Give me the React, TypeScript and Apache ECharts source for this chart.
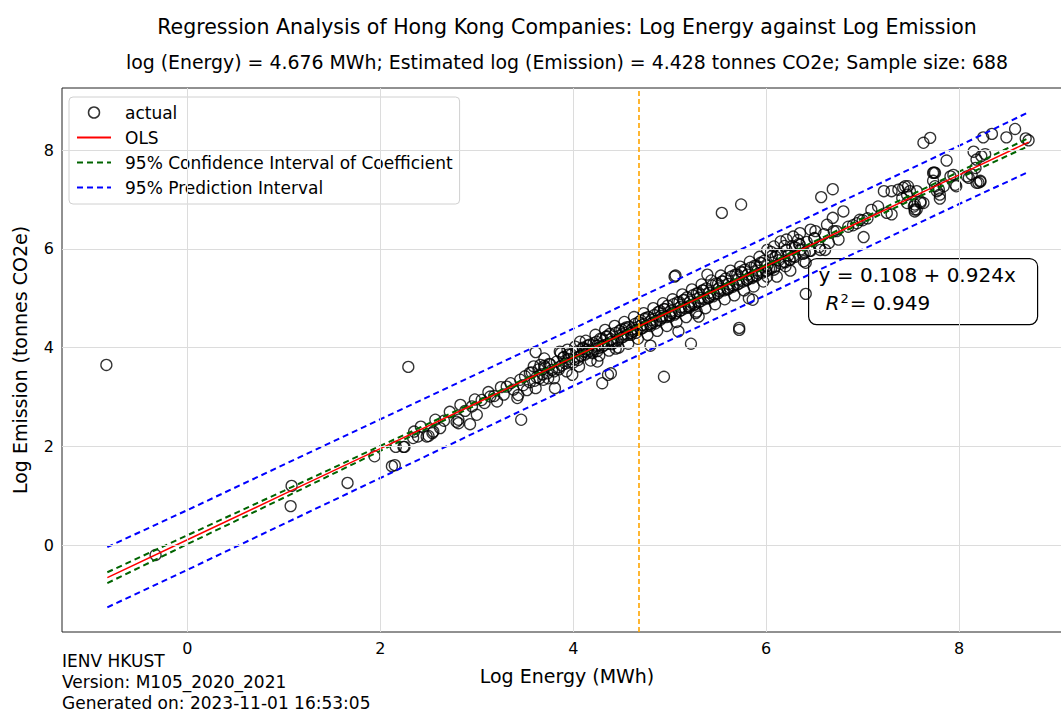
import React, { useEffect, useRef } from "react";
import * as echarts from "echarts";

const FONT = "DejaVu Sans";

const titleText = "Regression Analysis of Hong Kong Companies: Log Energy against Log Emission";
const subtitleText = "log (Energy) = 4.676 MWh; Estimated log (Emission) = 4.428 tonnes CO2e; Sample size: 688";
const footerLines = ["IENV HKUST", "Version: M105_2020_2021", "Generated on: 2023-11-01 16:53:05"];

const xTicks = [0, 2, 4, 6, 8];
const yTicks = [0, 2, 4, 6, 8];
const meanLogEnergy = 4.676;

const outlierPoints: number[][] = [
  [-0.84, 3.65], [-0.33, -0.2], [1.08, 1.2], [1.07, 0.79], [1.66, 1.26], [1.94, 1.8], [2.12, 1.6], [2.15, 1.62],
  [2.29, 3.61], [3.46, 2.54], [3.61, 3.91], [4.30, 3.28], [4.36, 3.45], [4.39, 3.48], [4.25, 3.72], [4.94, 3.41],
  [5.22, 4.08], [5.72, 4.36], [4.80, 4.04], [4.44, 3.98], [5.54, 6.73], [5.74, 6.90], [5.72, 4.40], [5.86, 4.97],
  [5.82, 5.0], [5.06, 5.46], [5.05, 5.44], [5.09, 4.33], [5.30, 4.63], [5.28, 4.73], [5.39, 5.48], [4.07, 4.12],
  [6.57, 7.05], [6.69, 7.21], [7.01, 6.24], [6.41, 5.09], [7.74, 7.55], [6.80, 6.76], [6.69, 6.63], [7.63, 8.15],
  [7.70, 8.25], [8.25, 8.26], [8.34, 8.33], [8.49, 8.26], [8.58, 8.43], [8.69, 8.24], [8.72, 8.20], [7.87, 7.79],
  [8.15, 7.97], [8.27, 7.92], [8.20, 7.34], [8.22, 7.38], [7.80, 7.02], [8.08, 7.47], [7.94, 7.50], [7.75, 7.54],
  [7.54, 6.80], [7.97, 7.27],
];

// lower band (x 2 .. 4.2)
const lowBandPoints: number[][] = [
  [2.25, 1.99], [2.35, 2.30], [2.34, 2.17], [2.39, 2.20], [2.48, 2.20], [2.50, 2.21], [2.54, 2.27], [2.55, 2.30],
  [2.62, 2.37], [2.57, 2.54], [2.79, 2.50], [2.81, 2.54], [2.81, 2.47], [2.93, 2.45], [2.83, 2.84], [2.95, 2.81],
  [3.00, 2.64], [3.05, 2.94], [3.14, 3.01], [3.21, 2.91], [3.42, 2.98], [3.43, 3.04], [3.31, 3.21], [3.59, 3.62],
  [3.66, 3.65], [3.69, 3.35], [3.61, 3.18], [3.52, 3.14], [3.80, 3.38], [3.81, 3.18], [3.99, 3.45], [3.87, 3.89],
  [3.94, 3.96], [4.14, 3.96], [4.21, 4.09], [2.16, 1.99], [2.24, 1.99],
  [2.42, 2.40], [2.66, 2.52], [2.72, 2.70], [2.88, 2.72], [2.98, 2.95], [3.08, 2.88], [3.12, 3.10], [3.18, 3.02],
  [3.25, 3.20], [3.28, 3.05], [3.35, 3.28], [3.38, 3.15], [3.45, 3.35], [3.48, 3.24], [3.50, 3.42], [3.55, 3.30],
  [3.57, 3.50], [3.62, 3.40], [3.64, 3.56], [3.68, 3.46], [3.71, 3.60], [3.73, 3.48], [3.76, 3.66], [3.78, 3.55],
  [3.83, 3.72], [3.85, 3.60], [3.88, 3.64], [3.90, 3.80], [3.92, 3.68], [3.96, 3.70], [3.98, 3.86],
];

// main dense band (x 3.5 .. 6.7)
const midBandPoints: number[][] = [
  [4.01, 3.76], [4.03, 3.92], [4.05, 3.80], [4.08, 3.84], [4.10, 3.98], [4.12, 3.86], [4.15, 3.90], [4.17, 4.06],
  [4.19, 3.92], [4.22, 3.97], [4.24, 4.12], [4.26, 3.99], [4.28, 4.18], [4.30, 4.02], [4.32, 4.05], [4.34, 4.22],
  [4.36, 4.08], [4.38, 4.28], [4.40, 4.12], [4.42, 4.10], [4.44, 4.30], [4.46, 4.16], [4.48, 4.34], [4.50, 4.20],
  [4.52, 4.22], [4.54, 4.38], [4.56, 4.26], [4.58, 4.42], [4.60, 4.30], [4.62, 4.33], [4.64, 4.48], [4.66, 4.36],
  [4.68, 4.52], [4.70, 4.38], [4.72, 4.40], [4.74, 4.58], [4.76, 4.44], [4.78, 4.62], [4.80, 4.48], [4.82, 4.50],
  [4.84, 4.66], [4.86, 4.54], [4.88, 4.72], [4.90, 4.56], [4.92, 4.60], [4.94, 4.78], [4.96, 4.62], [4.98, 4.85],
  [5.00, 4.66], [5.02, 4.70], [5.04, 4.88], [5.06, 4.70], [5.08, 4.92], [5.10, 4.74], [5.12, 4.76], [5.14, 4.96],
  [5.16, 4.80], [5.18, 5.02], [5.20, 4.84], [5.22, 4.86], [5.24, 5.06], [5.26, 4.88], [5.28, 5.10], [5.30, 4.92],
  [5.32, 4.94], [5.34, 5.16], [5.36, 4.98], [5.38, 5.20], [5.40, 5.02], [5.42, 5.04], [5.44, 5.26], [5.46, 5.08],
  [5.48, 5.30], [5.50, 5.10], [5.52, 5.14], [5.54, 5.34], [5.56, 5.16], [5.58, 5.40], [5.60, 5.20], [5.62, 5.22],
  [5.64, 5.44], [5.66, 5.26], [5.68, 5.48], [5.70, 5.28], [5.72, 5.30], [5.74, 5.54], [5.76, 5.34], [5.78, 5.58],
  [5.80, 5.38], [5.82, 5.40], [5.84, 5.62], [5.86, 5.44], [5.88, 5.66], [5.90, 5.46], [5.92, 5.50], [5.94, 5.72],
  [5.96, 5.52], [5.98, 5.76], [6.00, 5.56], [6.03, 5.60], [6.06, 5.86], [6.09, 5.64], [6.12, 5.90], [6.15, 5.70],
  [6.18, 5.74], [6.21, 5.98], [6.24, 5.78], [6.27, 6.06], [6.30, 5.84], [6.34, 6.10], [6.38, 5.90], [6.42, 6.14],
  [6.46, 5.96], [6.50, 6.22], [6.55, 6.04], [6.60, 6.30], [6.65, 6.12], [6.70, 6.36],
  [3.70, 3.78], [3.74, 3.38], [3.86, 3.92], [3.93, 3.52], [4.02, 4.02], [4.06, 3.62], [4.13, 4.14], [4.18, 3.74],
  [4.23, 4.26], [4.27, 3.84], [4.33, 4.36], [4.37, 3.94], [4.43, 4.44], [4.47, 4.00], [4.53, 4.52], [4.57, 4.08],
  [4.63, 4.62], [4.67, 4.18], [4.73, 4.70], [4.77, 4.26], [4.83, 4.80], [4.87, 4.34], [4.93, 4.90], [4.97, 4.44],
  [5.03, 4.98], [5.07, 4.52], [5.13, 5.08], [5.17, 4.62], [5.23, 5.18], [5.27, 4.70], [5.33, 5.28], [5.37, 4.80],
  [5.43, 5.36], [5.47, 4.88], [5.53, 5.46], [5.57, 4.98], [5.63, 5.56], [5.67, 5.06], [5.73, 5.64], [5.77, 5.16],
  [5.83, 5.74], [5.87, 5.24], [5.93, 5.84], [5.97, 5.34], [6.05, 5.94], [6.11, 5.44], [6.19, 6.06], [6.25, 5.56],
  [6.33, 6.18], [6.41, 5.72],
  [3.95, 3.77], [4.11, 3.92], [4.25, 4.04], [4.39, 4.17], [4.51, 4.27], [4.61, 4.37], [4.71, 4.46], [4.81, 4.56],
  [4.91, 4.64], [5.01, 4.74], [5.11, 4.82], [5.21, 4.93], [5.31, 5.01], [5.41, 5.11], [5.51, 5.20], [5.61, 5.29],
  [5.71, 5.38], [5.81, 5.48], [5.91, 5.56], [6.01, 5.66], [6.13, 5.77], [6.23, 5.87], [6.36, 5.99],
  [3.55, 3.49], [3.65, 3.38], [3.75, 3.67], [3.85, 3.56], [3.95, 3.86], [4.05, 3.75], [4.15, 4.04], [4.25, 3.93],
  [4.35, 4.23], [4.45, 4.12], [4.55, 4.41], [4.65, 4.30], [4.75, 4.60], [4.85, 4.49], [4.95, 4.78], [5.05, 4.67],
  [5.15, 4.97], [5.25, 4.86], [5.35, 5.16], [5.45, 5.04], [5.55, 5.34], [5.65, 5.23], [5.75, 5.52], [5.85, 5.41],
  [5.95, 5.71], [6.05, 5.60], [6.15, 5.89], [6.25, 5.78], [6.35, 6.08], [6.45, 5.96],
  [3.60, 3.33], [3.70, 3.63], [3.80, 3.52], [3.90, 3.81], [4.00, 3.70], [4.10, 4.00], [4.20, 3.89], [4.30, 4.18],
  [4.40, 4.07], [4.50, 4.37], [4.60, 4.26], [4.70, 4.55], [4.80, 4.44], [4.90, 4.74], [5.00, 4.63], [5.10, 4.92],
  [5.20, 4.81], [5.30, 5.11], [5.40, 5.00], [5.50, 5.29], [5.60, 5.18], [5.70, 5.48], [5.80, 5.37], [5.90, 5.66],
  [6.00, 5.55], [6.10, 5.84], [6.20, 5.73], [6.30, 6.03], [6.40, 5.92], [6.50, 6.21],
];

// upper band (x 6 .. 8.2)
const highBandPoints: number[][] = [
  [7.22, 7.17], [7.30, 7.17], [7.37, 7.20], [7.42, 7.24], [7.47, 7.27], [7.25, 6.73], [7.30, 6.70], [7.46, 6.93],
  [7.53, 6.86], [7.60, 6.93], [7.56, 6.80], [6.94, 6.52], [6.97, 6.59], [7.09, 6.79], [7.16, 6.86], [6.73, 6.36],
  [6.63, 6.49], [6.51, 6.36], [6.46, 6.39], [6.35, 6.32], [6.28, 6.25], [6.21, 6.19], [6.15, 6.15], [6.08, 6.05],
  [6.01, 5.98], [6.56, 5.98], [6.61, 5.98], [6.39, 5.75], [6.28, 5.85], [6.20, 5.65], [6.08, 5.58], [6.01, 5.44],
  [6.75, 6.19], [7.75, 7.27], [7.77, 7.17], [7.44, 7.27], [7.49, 7.17], [7.56, 7.17], [7.60, 6.96], [7.63, 6.93],
  [7.54, 6.90], [7.54, 6.76], [7.46, 7.10], [7.41, 7.03], [7.73, 7.38], [7.79, 7.20], [7.80, 7.10], [7.84, 7.27],
  [7.91, 7.47], [7.96, 7.30], [8.10, 7.44], [8.13, 7.51], [8.18, 7.34], [8.22, 7.36], [8.17, 7.64], [8.18, 7.81],
  [8.23, 7.88], [7.73, 7.54], [6.85, 6.45], [6.90, 6.48], [7.00, 6.58], [7.05, 6.62],
];

// fitted lines, read at these x positions
const fitX = [-0.83, 0, 1, 2, 3, 4, 4.5, 5, 6, 7, 8, 8.72];
const olsY = [-0.659, 0.108, 1.032, 1.956, 2.88, 3.804, 4.266, 4.728, 5.652, 6.576, 7.5, 8.165];
const ciUpperY = [-0.55, 0.2, 1.1, 2.01, 2.915, 3.824, 4.284, 4.748, 5.682, 6.621, 7.565, 8.245];
const ciLowerY = [-0.77, 0.02, 0.96, 1.91, 2.845, 3.784, 4.248, 4.708, 5.622, 6.531, 7.435, 8.085];
const piUpperY = [-0.04, 0.71, 1.63, 2.55, 3.465, 4.385, 4.846, 5.308, 6.235, 7.162, 8.09, 8.77];
const piLowerY = [-1.26, -0.5, 0.43, 1.36, 2.295, 3.223, 3.686, 4.148, 5.069, 5.99, 6.91, 7.56];

const zip = (xs: number[], ys: number[]) => xs.map((x, i) => [x, ys[i]]);

export default function App() {
  const ref = useRef<HTMLDivElement>(null);
  useEffect(() => {
    if (!ref.current) return;
    const chart = echarts.init(ref.current, null, { renderer: "svg" });
    const allPoints = [...outlierPoints, ...lowBandPoints, ...midBandPoints, ...highBandPoints];
    const lineBase = { type: "line", showSymbol: false, symbol: "none", silent: true, z: 3 };
    const hiddenSymbol = { color: "rgba(0,0,0,0)", borderWidth: 0, opacity: 0 };
    chart.setOption({
      animation: false,
      textStyle: { fontFamily: FONT },
      grid: { left: 62, right: 8, top: 88, bottom: 79, show: true, borderColor: "#222", borderWidth: 1, backgroundColor: "transparent" },
      legend: {
        orient: "vertical", left: 69, top: 97,
        data: [
          { name: "actual", icon: "circle", itemStyle: { color: "rgba(0,0,0,0)", borderColor: "#000", borderWidth: 1.5 } },
          { name: "OLS", itemStyle: hiddenSymbol },
          { name: "95% Confidence Interval of Coefficient", itemStyle: hiddenSymbol },
          { name: "95% Prediction Interval", itemStyle: hiddenSymbol },
        ],
        itemWidth: 34, itemHeight: 11, itemGap: 6,
        padding: [6, 7, 7, 7],
        backgroundColor: "rgba(255,255,255,0.85)", borderColor: "#d0d0d0", borderWidth: 1, borderRadius: 4,
        textStyle: { fontFamily: FONT, fontSize: 17, color: "#000", padding: [0, 0, 0, 9], lineHeight: 19 },
      },
      xAxis: {
        type: "value", min: -1.3, max: 9.17,
        name: "Log Energy (MWh)", nameLocation: "middle", nameGap: 34,
        nameTextStyle: { fontFamily: FONT, fontSize: 19, color: "#000" },
        axisLine: { show: false },
        axisTick: { show: true, length: 5, lineStyle: { color: "#222" }, customValues: xTicks },
        axisLabel: { fontFamily: FONT, fontSize: 16, color: "#000", margin: 8, customValues: xTicks },
        splitLine: { show: false },
      },
      yAxis: {
        type: "value", min: -1.76, max: 9.26,
        name: "Log Emission (tonnes CO2e)", nameLocation: "middle", nameGap: 33,
        nameTextStyle: { fontFamily: FONT, fontSize: 19, color: "#000" },
        axisLine: { show: false },
        axisTick: { show: true, length: 5, lineStyle: { color: "#222" }, customValues: yTicks },
        axisLabel: { fontFamily: FONT, fontSize: 16, color: "#000", margin: 8, customValues: yTicks },
        splitLine: { show: false },
      },
      series: [
        {
          name: "grid", type: "line", data: [], silent: true, z: 0,
          markLine: {
            silent: true, symbol: "none", label: { show: false },
            lineStyle: { color: "#dcdcdc", width: 1, type: "solid" },
            data: [...xTicks.map((v) => ({ xAxis: v })), ...yTicks.map((v) => ({ yAxis: v }))],
          },
        },
        {
          name: "actual", type: "scatter", data: allPoints, symbol: "circle", symbolSize: 11, z: 2,
          itemStyle: { color: "rgba(0,0,0,0)", borderColor: "#000", borderWidth: 1.3 },
          silent: true,
        },
        { ...lineBase, name: "OLS", data: zip(fitX, olsY), z: 4, lineStyle: { color: "#ff0000", width: 1.5 }, itemStyle: { color: "#ff0000" } },
        { ...lineBase, name: "95% Confidence Interval of Coefficient", data: zip(fitX, ciUpperY), lineStyle: { color: "#006400", width: 2, type: [6, 4] }, itemStyle: { color: "#006400" } },
        { ...lineBase, name: "95% Confidence Interval of Coefficient", data: zip(fitX, ciLowerY), lineStyle: { color: "#006400", width: 2, type: [6, 4] }, itemStyle: { color: "#006400" } },
        { ...lineBase, name: "95% Prediction Interval", data: zip(fitX, piUpperY), lineStyle: { color: "#0000ff", width: 2, type: [6, 4] }, itemStyle: { color: "#0000ff" } },
        { ...lineBase, name: "95% Prediction Interval", data: zip(fitX, piLowerY), lineStyle: { color: "#0000ff", width: 2, type: [6, 4] }, itemStyle: { color: "#0000ff" } },
        {
          name: "mean", type: "line", data: [], silent: true, z: 5,
          markLine: {
            silent: true, symbol: "none", label: { show: false },
            lineStyle: { color: "#ffa500", width: 1.6, type: [5, 3] },
            data: [{ xAxis: meanLogEnergy }],
          },
        },
      ],
      graphic: [
        {
          type: "text", x: 567, y: 27, z: 100,
          style: { text: titleText, fontFamily: FONT, fontSize: 20.5, fill: "#000", textAlign: "center", textVerticalAlign: "middle" },
        },
        {
          type: "text", x: 567, y: 62, z: 100,
          style: { text: subtitleText, fontFamily: FONT, fontSize: 18.9, fill: "#000", textAlign: "center", textVerticalAlign: "middle" },
        },
        {
          type: "group", left: 808, top: 258, z: 100,
          children: [
            { type: "rect", shape: { x: 0, y: 0, width: 229, height: 66, r: 8 }, style: { fill: "#fff", stroke: "#000", lineWidth: 1.2 } },
            { type: "text", x: 10, y: 6, style: { text: "y = 0.108 + 0.924x", fontFamily: FONT, fontSize: 20, fill: "#000" } },
            {
              type: "text", x: 17, y: 33,
              style: {
                text: "{i|R}{s|2}{n|= 0.949}", fontFamily: FONT, fontSize: 20, fill: "#000",
                rich: {
                  i: { fontFamily: FONT, fontSize: 20, fontStyle: "italic", fill: "#000" },
                  s: { fontFamily: FONT, fontSize: 13, fill: "#000", verticalAlign: "top", padding: [0, 1, 9, 1] },
                  n: { fontFamily: FONT, fontSize: 20, fill: "#000" },
                },
              },
            },
          ],
        },
        ...footerLines.map((t, i) => ({
          type: "text", left: 62, top: 652 + i * 21,
          style: { text: t, fontFamily: FONT, fontSize: 17, fill: "#000" },
        })),
      ],
    });
    return () => chart.dispose();
  }, []);
  return (
    <div style={{ position: "absolute", left: 0, top: 0, width: 1061, height: 711, overflow: "hidden" }}>
      <div ref={ref} style={{ width: 1080, height: 711 }} />
    </div>
  );
}
